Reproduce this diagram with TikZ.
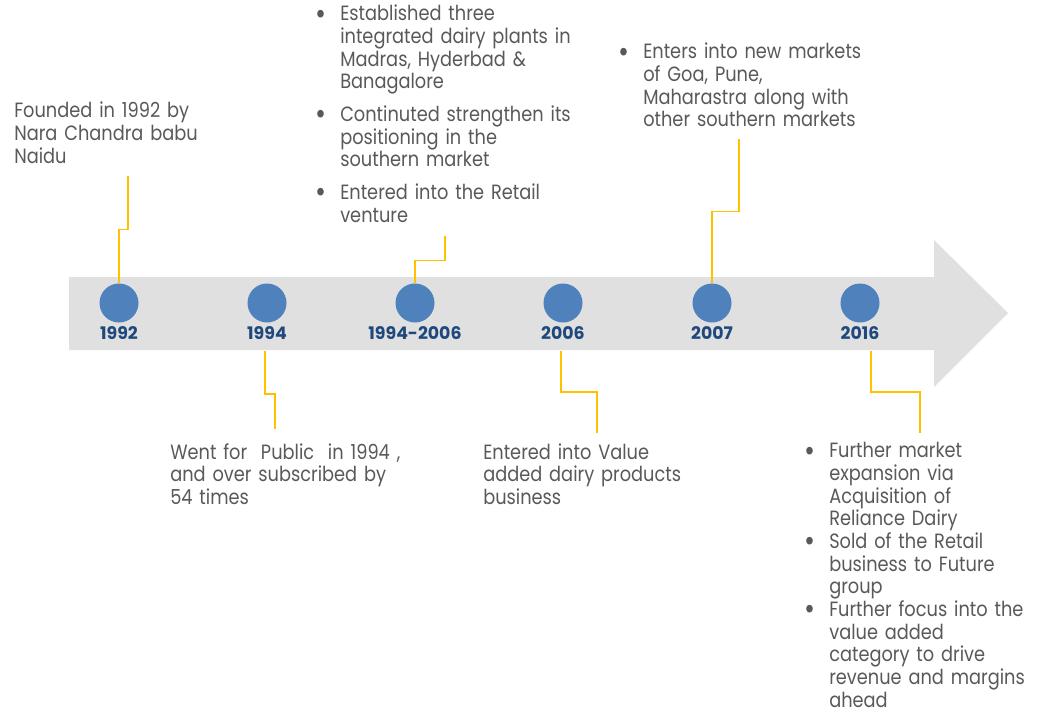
\documentclass[tikz,border=0pt]{standalone}
\usepackage{fontspec}
\setmainfont{Poppins}[FakeStretch=0.86]
\newfontfamily\yearfont{Poppins}
\usepackage{xcolor}
\usepackage{enumitem}
\usepackage{tikz}
\usetikzlibrary{positioning}
\definecolor{bandgray}{HTML}{E0E0E0}
\definecolor{dotblue}{HTML}{4F81BD}
\definecolor{yearblue}{HTML}{1F497D}
\definecolor{linegold}{HTML}{FFC000}
\definecolor{txtgray}{HTML}{595959}
\setlist[itemize]{label=\raisebox{-0.15em}{\scalebox{1.5}{\textbullet}},
                  leftmargin=18pt, labelsep=10pt,
                  topsep=0pt, partopsep=0pt, parsep=0pt, itemsep=0pt}
\tikzset{
  yeardot/.style={circle, fill=dotblue, minimum size=29.25pt, inner sep=0pt},
  yearlbl/.style={inner sep=0pt, text=yearblue,
                  font=\yearfont\bfseries\fontsize{13}{14}\selectfont},
  note/.style={anchor=north west, inner sep=0pt, align=left, text=txtgray,
               font=\fontsize{15.5}{17}\selectfont},
  conn/.style={draw=linegold, line width=1.1pt},
}

\begin{document}
\begin{tikzpicture}[x=0.75pt, y=-0.75pt]
  \useasboundingbox (0,0) rectangle (1044,713);

  % timeline band
  \fill[bandgray] (69,277) -- (934,277) -- (934,240) -- (1008,313)
    -- (934,387) -- (934,350) -- (69,350) -- cycle;

  \node[yeardot] (c1) at (119,303) {};
  \node[yeardot] (c2) at (267,303) {};
  \node[yeardot] (c3) at (415,303) {};
  \node[yeardot] (c4) at (563,303) {};
  \node[yeardot] (c5) at (712,303) {};
  \node[yeardot] (c6) at (860,303) {};

  \node[yearlbl, below=3pt of c1] (y1) {1992};
  \node[yearlbl, below=3pt of c2] (y2) {1994};
  \node[yearlbl, below=3pt of c3] (y3) {1994-2006};
  \node[yearlbl, below=3pt of c4] (y4) {2006};
  \node[yearlbl, below=3pt of c5] (y5) {2007};
  \node[yearlbl, below=3pt of c6] (y6) {2016};

  % notes above
  \node[note, text width=160pt] (n1) at (14,102)
    {Founded in 1992 by\\Nara Chandra babu\\Naidu};
  \node[note, text width=220pt] (n3) at (316,-2) {%
    \begin{itemize}[itemsep=7.5pt]
      \item Established three\\integrated dairy plants in\\Madras, Hyderbad \&\\Banagalore
      \item Continuted strengthen its\\positioning in the\\southern market
      \item Entered into the Retail\\venture
    \end{itemize}};
  \node[note, text width=220pt] (n5) at (619,36) {%
    \begin{itemize}
      \item Enters into new markets\\of Goa, Pune,\\Maharastra along with\\other southern markets
    \end{itemize}};

  % notes below
  \node[note, text width=190pt] (n2) at (170,443)
    {Went for\ \ Public\ \ in 1994 ,\\and over subscribed by\\54 times};
  \node[note, text width=190pt] (n4) at (483,443)
    {Entered into Value\\added dairy products\\business};
  \node[note, text width=190pt] (n6) at (805,435) {%
    \begin{itemize}
      \item Further market\\expansion via\\Acquisition of\\Reliance Dairy
      \item Sold of the Retail\\business to Future\\group
      \item Further focus into the\\value added\\category to drive\\revenue and margins\\ahead
    \end{itemize}};

  % connectors
  \coordinate (k1) at (128,176);
  \coordinate (k3) at (445,236);
  \coordinate (k5) at (739,139);
  \draw[conn] (c1.north) -- ++(0,-54) -| (k1);
  \draw[conn] (c3.north) -- ++(0,-23) -| (k3);
  \draw[conn] (c5.north) -- ++(0,-72) -| (k5);

  \coordinate (b2) at (265,351);
  \coordinate (b4) at (561,351);
  \coordinate (b6) at (871,351);
  \coordinate (k2) at (275,429);
  \coordinate (k4) at (597,433);
  \coordinate (k6) at (920,433);
  \draw[conn] (b2) -- ++(0,43) -| (k2);
  \draw[conn] (b4) -- ++(0,41) -| (k4);
  \draw[conn] (b6) -- ++(0,41) -| (k6);
\end{tikzpicture}
\end{document}
